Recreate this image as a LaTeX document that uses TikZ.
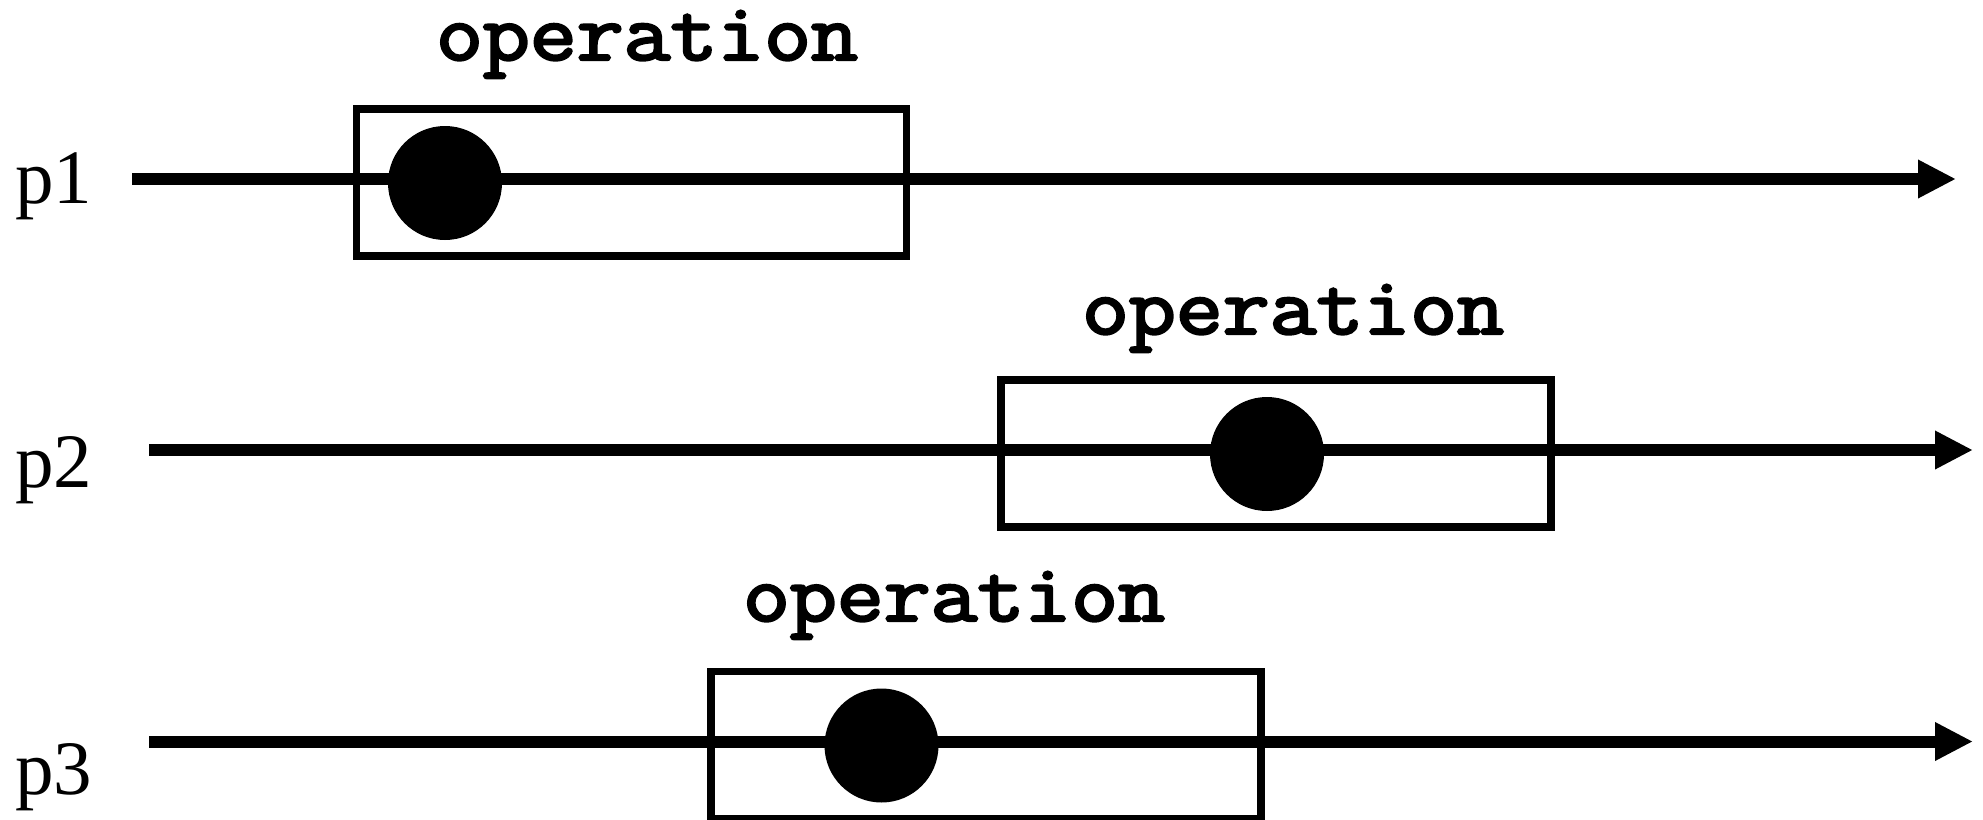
\documentclass[tikz,border=0pt]{standalone}
\usepackage{fontspec}
\usepackage{graphicx}
\setmainfont{Liberation Serif}
\newfontfamily\opfont{Latin Modern Mono}[FakeBold=3]
\usetikzlibrary{arrows.meta}
\newcommand{\oplabeltext}{\scalebox{1.11}[1]{\opfont\fontsize{82}{82}\selectfont operation}}
\begin{document}
\begin{tikzpicture}[x=1pt,y=-1pt,
  timeline/.style={line width=12pt, -{Triangle[length=38pt,width=36pt]}},
  opbox/.style={draw, line width=7.5pt, minimum width=550pt, minimum height=147pt, inner sep=0pt},
  evt/.style={circle, fill=black, minimum size=114pt, inner sep=0pt},
  proc/.style={font=\fontsize{77}{77}\selectfont, anchor=base west, inner sep=0pt},
  oplabel/.style={anchor=base, inner sep=0pt}]
\useasboundingbox (0,0) rectangle (1983,819);

% process 1
\node[proc] (p1) at (15,203) {p1};
\coordinate (s1) at (132,179);
\coordinate (e1) at (1956,179);
\draw[timeline] (s1) -- (e1);
\node[opbox] (b1) at (631.7,182.5) {};
\node[evt] (c1) at (445,183) {};
\node[oplabel] (o1) at (647,60) {\oplabeltext};

% process 2
\node[proc] (p2) at (15,487) {p2};
\coordinate (s2) at (149,450);
\coordinate (e2) at (1973,450);
\draw[timeline] (s2) -- (e2);
\node[opbox] (b2) at (1276,453.5) {};
\node[evt] (c2) at (1267,454) {};
\node[oplabel] (o2) at (1293,334) {\oplabeltext};

% process 3
\node[proc] (p3) at (15,794) {p3};
\coordinate (s3) at (149,741.5);
\coordinate (e3) at (1973,741.5);
\draw[timeline] (s3) -- (e3);
\node[opbox] (b3) at (986,745) {};
\node[evt] (c3) at (881.5,745.5) {};
\node[oplabel] (o3) at (954,621) {\oplabeltext};
\end{tikzpicture}
\end{document}
